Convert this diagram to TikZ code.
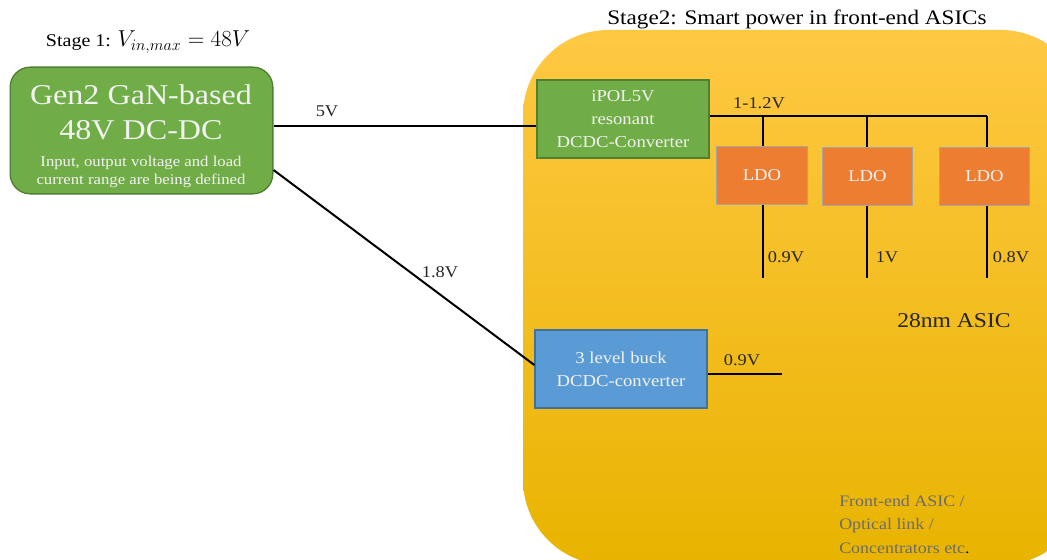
\documentclass[tikz,border=0pt]{standalone}
\usepackage{fontspec}
\setmainfont{Liberation Serif}[FakeStretch=1.12]
\definecolor{gfill}{HTML}{70AD47}
\definecolor{gdraw}{HTML}{507E32}
\definecolor{ofill}{HTML}{ED7D31}
\definecolor{odraw}{HTML}{A5A5A5}
\definecolor{bfill}{HTML}{5B9BD5}
\definecolor{bdraw}{HTML}{41719C}
\definecolor{ytop}{HTML}{FFC843}
\definecolor{ymid}{HTML}{FFC400}
\definecolor{ybot}{HTML}{E8B400}
\definecolor{txtw}{HTML}{F2F2F2}
\definecolor{greytxt}{HTML}{6B6B6B}
\tikzset{
  greenbox/.style={draw=gdraw, fill=gfill, line width=1pt, text=txtw, align=center, inner sep=0pt},
  ldobox/.style={draw=odraw, fill=ofill, line width=0.8pt, text=txtw, minimum width=68pt, minimum height=43pt, inner sep=0pt, font=\fontsize{12.5}{14}\selectfont},
  bluebox/.style={draw=bdraw, fill=bfill, line width=1pt, text=txtw, align=center, inner sep=0pt},
  wire/.style={line width=1.5pt, black},
  lbl/.style={font=\fontsize{12.3}{14}\selectfont, inner sep=0pt, text=black!85}
}
\begin{document}
\begin{tikzpicture}[x=0.75pt, y=-0.75pt]
\useasboundingbox (0,0) rectangle (1047,560);
% yellow region
\begin{scope}
\clip (0,0) rectangle (1047,560);
\shade[top color=ytop, middle color=ymid, bottom color=ybot, rounded corners=64pt]
  (523,30) rectangle (1086,565);
\end{scope}
% titles
\node[font=\fontsize{13.4}{15}\selectfont, anchor=center] (t1) at (148,42) {Stage 1: {\fontsize{17.5}{20}\selectfont$V_{in,max}=48V$}};
\node[font=\fontsize{15.5}{17}\selectfont, anchor=center] (t2) at (797,19) {Stage2: Smart power in front-end ASICs};
% green main box
\node[greenbox, rounded corners=15pt, minimum width=197pt, minimum height=95pt] (gen) at (141.5,130.5) {};
\node[text=txtw, align=center, font=\fontsize{21.5}{26}\selectfont] (genA) at (141,112) {Gen2 GaN-based\\48V DC-DC};
\node[text=txtw, align=center, font=\fontsize{11.2}{13}\selectfont] (genB) at (141,172) {Input, output voltage and load\\current range are being defined};
% iPOL box
\node[greenbox, minimum width=129pt, minimum height=58.5pt, font=\fontsize{12.5}{17.5}\selectfont] (ipol) at (623,119) {iPOL5V\\resonant\\DCDC-Converter};
% LDO boxes
\node[ldobox] (ldo1) at (762,175.5) {LDO};
\node[ldobox] (ldo2) at (867.5,176.5) {LDO};
\node[ldobox] (ldo3) at (984.5,176.5) {LDO};
% blue box
\node[bluebox, minimum width=129pt, minimum height=58.5pt, font=\fontsize{12.5}{17.5}\selectfont] (buck) at (621,369) {3 level buck\\DCDC-converter};
% coordinates
\coordinate (b0) at (ipol.east |- 0,116);
\coordinate (b1) at (763,116);
\coordinate (b2) at (867,116);
\coordinate (b3) at (987,116);
\coordinate (o1) at (763,278);
\coordinate (o2) at (867,278);
\coordinate (o3) at (987,278);
\coordinate (o4) at (782,374);
% wires
\draw[wire] (gen.east |- 0,126) -- (ipol.west |- 0,126);
\draw[wire] (gen.east |- 0,170) -- (buck.west |- 0,365);
\draw[wire] (b0) -- (b3);
\draw[wire] (b1) -- (b1 |- ldo1.north);
\draw[wire] (b2) -- (b2 |- ldo2.north);
\draw[wire] (b3) -- (b3 |- ldo3.north);
\draw[wire] (o1 |- ldo1.south) -- (o1);
\draw[wire] (o2 |- ldo2.south) -- (o2);
\draw[wire] (o3 |- ldo3.south) -- (o3);
\draw[wire] (buck.east |- o4) -- (o4);
% labels
\node[lbl] (l5) at (327,111) {5V};
\node[lbl] (l18) at (440,272) {1.8V};
\node[lbl] (l12) at (759,103) {1-1.2V};
\node[lbl] (l09a) at (786,257) {0.9V};
\node[lbl] (l1) at (887,257) {1V};
\node[lbl] (l08) at (1011,257) {0.8V};
\node[lbl] (l09b) at (742,360) {0.9V};
\node[font=\fontsize{15.8}{18}\selectfont, text=black!85] (asic) at (954,321) {28nm ASIC};
\node[font=\fontsize{12}{17.5}\selectfont, text=greytxt, align=left, anchor=north west, inner sep=0pt] (fe) at (839,495) {Front-end ASIC /\\Optical link /\\Concentrators etc\textcolor{black}{.}};
\end{tikzpicture}
\end{document}
